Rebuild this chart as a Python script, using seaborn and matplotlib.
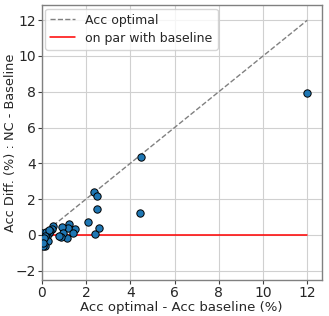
import matplotlib
matplotlib.use("Agg")
import matplotlib.pyplot as plt
import seaborn as sns
import numpy as np
import pandas as pd

# data
x_gap = [11.97, 4.47, 4.44, 2.36, 2.52, 2.52, 2.09, 2.41, 2.61, 1.52, 1.25, 1.19,
         0.92, 1.40, 1.13, 0.98, 0.87, 0.77, 0.53, 0.45, 0.38, 0.32, 0.26, 0.30,
         0.20, 0.15, 0.08, 0.08, 0.05, 0.11, 0.03, 0.18, 0.33, 0.15, 0.12, 0.05]
y_diff = [7.94, 4.34, 1.23, 2.38, 2.20, 1.45, 0.73, 0.07, 0.41, 0.34, 0.61, 0.41,
          0.45, 0.11, -0.15, 0.11, -0.13, -0.04, 0.52, 0.34, 0.20, 0.11, -0.07, -0.34,
          0.06, -0.63, -0.60, -0.22, -0.07, 0.07, 0.10, 0.18, 0.28, -0.06, -0.18, -0.45]
line_end = 12

df = pd.DataFrame({"x": x_gap, "y": y_diff})

sns.set_style("whitegrid")
plt.rcParams['font.family'] = ['DejaVu Sans']

fig = plt.figure(figsize=(3.29, 3.16), dpi=100)
ax = fig.add_axes([41.7/329, 1-280/316, (321.7-41.7)/329, (280-5)/316])

ax.plot([0, line_end], [0, line_end], ls="--", color="gray", lw=1, label="Acc optimal", zorder=2)
ax.plot([0, line_end], [0, 0], color="red", lw=1.1, label="on par with baseline", zorder=2)
sns.scatterplot(data=df, x="x", y="y", ax=ax, color="#1f77b4", edgecolor="black",
                linewidth=0.7, s=28, zorder=3)

ax.set_xlim(0, 12.65)
ax.set_ylim(-2.52, 12.85)
ax.set_xticks([0, 2, 4, 6, 8, 10, 12])
ax.set_yticks([-2, 0, 2, 4, 6, 8, 10, 12])
ax.grid(True, color="#d0d0d0", lw=0.8)
for s in ax.spines.values():
    s.set_visible(True)
    s.set_color("#808080")
    s.set_linewidth(1)
ax.tick_params(axis="both", which="both", length=3, width=0.8, color="#404040",
               labelsize=10, pad=1, direction="out", bottom=True, left=True)
ax.set_xlabel("Acc optimal - Acc baseline (%)", fontsize=9.5, labelpad=1)
ax.set_ylabel("Acc Diff. (%) : NC - Baseline", fontsize=9.3)
ax.yaxis.set_label_coords(-0.088, 0.5)
leg = ax.legend(loc="upper left", fontsize=9, frameon=True, borderaxespad=0.3,
                handlelength=2.0, labelspacing=0.4)
leg.get_frame().set_edgecolor("#cccccc")

fig.savefig("out.png", dpi=100)
